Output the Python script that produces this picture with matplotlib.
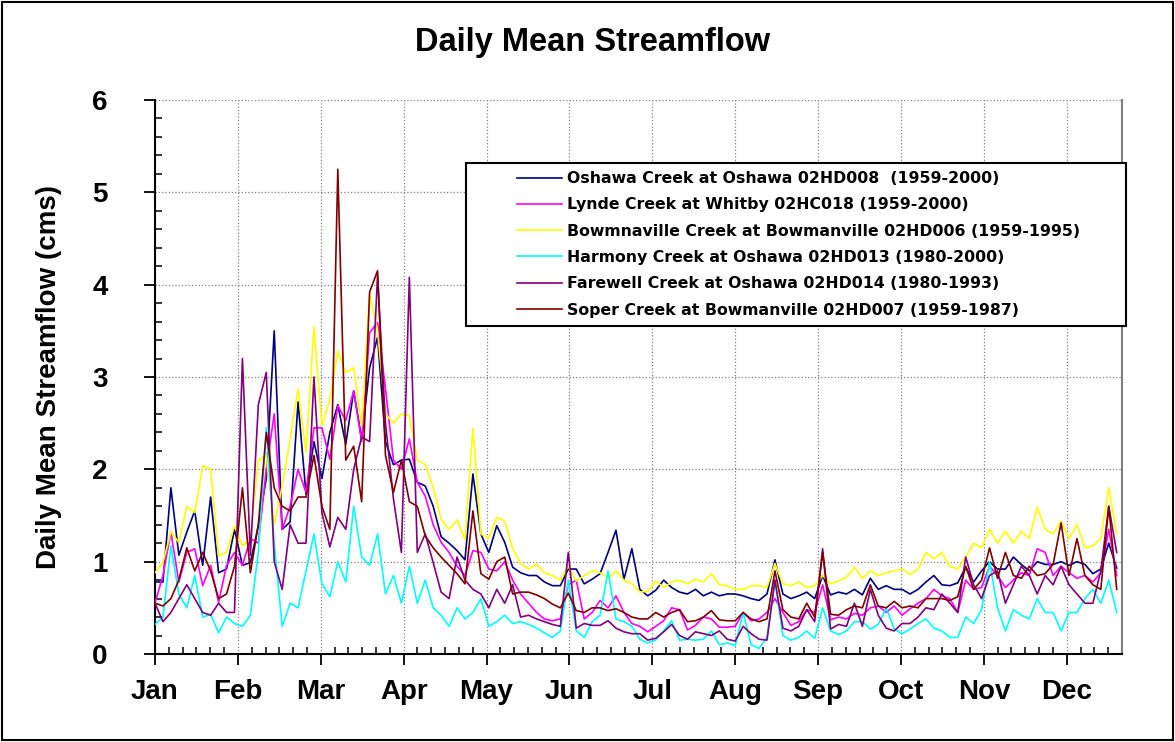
import numpy as np
import matplotlib
matplotlib.use("Agg")
import matplotlib.pyplot as plt
from matplotlib.patches import Rectangle

plt.rcParams['font.family'] = ['Liberation Sans', 'DejaVu Sans']

# day of year, sampled every 3 days
days = np.arange(0, 364, 3)

months = ['Jan', 'Feb', 'Mar', 'Apr', 'May', 'Jun',
          'Jul', 'Aug', 'Sep', 'Oct', 'Nov', 'Dec']

names = ['Oshawa Creek at Oshawa 02HD008  (1959-2000)',
         'Lynde Creek at Whitby 02HC018 (1959-2000)',
         'Bowmnaville Creek at Bowmanville 02HD006 (1959-1995)',
         'Harmony Creek at Oshawa 02HD013 (1980-2000)',
         'Farewell Creek at Oshawa 02HD014 (1980-1993)',
         'Soper Creek at Bowmanville 02HD007 (1959-1987)']

oshawa = [0.78, 0.78, 1.8, 1.07, 1.32, 1.55, 0.96, 1.7, 0.88, 0.92,
          1.35, 0.96, 0.99, 1.39, 1.9, 3.5, 1.35, 1.43, 2.73, 1.73,
          2.3, 1.9, 2.4, 2.7, 2.27, 2.85, 2.33, 3.1, 3.43, 2.3,
          2.05, 2.1, 2.11, 1.86, 1.82, 1.6, 1.27, 1.2, 1.12, 1.02,
          1.95, 1.3, 1.1, 1.39, 1.21, 0.94, 0.88, 0.85, 0.85, 0.78,
          0.74, 0.74, 0.92, 0.92, 0.76, 0.81, 0.87, 1.1, 1.34, 0.81,
          1.14, 0.7, 0.63, 0.69, 0.8, 0.72, 0.67, 0.65, 0.7, 0.63,
          0.67, 0.63, 0.65, 0.65, 0.63, 0.6, 0.58, 0.65, 1.02, 0.65,
          0.6, 0.63, 0.67, 0.6, 0.85, 0.64, 0.67, 0.65, 0.7, 0.64,
          0.82, 0.7, 0.74, 0.7, 0.7, 0.65, 0.7, 0.78, 0.85, 0.75,
          0.74, 0.77, 0.94, 0.78, 0.9, 1.0, 0.92, 0.92, 1.05, 0.97,
          0.9, 1.0, 0.97, 0.97, 1.0, 0.96, 1.0, 0.97, 0.87, 0.92,
          1.2, 0.93]

lynde = [0.55, 0.85, 1.32, 0.78, 1.1, 1.14, 0.74, 0.96, 0.56, 0.96,
         1.1, 0.96, 1.25, 1.2, 2.0, 2.6, 1.35, 1.6, 2.0, 1.75,
         2.45, 2.45, 2.11, 2.69, 2.53, 2.85, 2.3, 3.48, 3.59, 2.87,
         2.1, 2.0, 2.33, 1.86, 1.71, 1.4, 1.21, 1.1, 0.95, 0.85,
         1.12, 1.1, 0.92, 0.9, 1.0, 0.8, 0.65, 0.55, 0.45, 0.38,
         0.36, 0.38, 0.75, 0.8, 0.38, 0.45, 0.58, 0.5, 0.63, 0.45,
         0.33, 0.3, 0.24, 0.3, 0.36, 0.5, 0.48, 0.26, 0.31, 0.4,
         0.38, 0.29, 0.29, 0.3, 0.45, 0.36, 0.38, 0.45, 0.6, 0.45,
         0.31, 0.35, 0.48, 0.45, 0.75, 0.37, 0.4, 0.38, 0.44, 0.42,
         0.5, 0.52, 0.45, 0.52, 0.42, 0.49, 0.55, 0.6, 0.7, 0.63,
         0.6, 0.45, 0.8, 0.7, 0.72, 0.95, 0.85, 0.72, 0.8, 0.88,
         0.85, 1.14, 1.1, 0.85, 0.95, 0.88, 0.82, 0.85, 0.78, 0.88,
         1.35, 0.85]

bowmanville = [0.88, 0.99, 1.32, 1.21, 1.6, 1.53, 2.04, 2.0, 1.06, 1.1,
               1.39, 1.17, 1.25, 2.1, 2.15, 1.4, 1.82, 2.33, 2.87, 2.18,
               3.54, 2.47, 2.76, 3.28, 3.05, 3.1, 2.47, 3.9, 3.5, 2.6,
               2.5, 2.6, 2.58, 2.1, 2.05, 1.8, 1.46, 1.35, 1.45, 1.24,
               2.44, 1.3, 1.25, 1.48, 1.44, 1.14, 0.98, 0.92, 0.97, 0.88,
               0.85, 0.8, 0.95, 0.79, 0.85, 0.9, 0.88, 0.82, 0.9, 0.8,
               0.76, 0.67, 0.68, 0.79, 0.72, 0.78, 0.8, 0.76, 0.81, 0.78,
               0.87, 0.75, 0.74, 0.7, 0.7, 0.74, 0.74, 0.72, 0.98, 0.76,
               0.74, 0.78, 0.72, 0.74, 0.85, 0.76, 0.79, 0.83, 0.94, 0.82,
               0.9, 0.85, 0.88, 0.9, 0.92, 0.86, 0.92, 1.1, 1.03, 1.1,
               0.95, 0.92, 1.05, 1.2, 1.15, 1.35, 1.2, 1.33, 1.2, 1.33,
               1.25, 1.59, 1.35, 1.3, 1.44, 1.25, 1.4, 1.15, 1.17, 1.25,
               1.8, 1.3]

harmony = [0.32, 0.4, 1.17, 0.65, 0.5, 0.85, 0.4, 0.43, 0.23, 0.4,
           0.33, 0.3, 0.42, 1.1, 2.45, 1.2, 0.3, 0.55, 0.5, 0.9,
           1.3, 0.76, 0.62, 1.0, 0.78, 1.6, 1.05, 0.96, 1.3, 0.65,
           0.85, 0.55, 0.95, 0.55, 0.8, 0.5, 0.42, 0.3, 0.5, 0.38,
           0.45, 0.6, 0.3, 0.35, 0.42, 0.33, 0.35, 0.32, 0.28, 0.23,
           0.18, 0.25, 0.8, 0.25, 0.18, 0.35, 0.42, 0.9, 0.38, 0.35,
           0.3, 0.16, 0.12, 0.15, 0.25, 0.36, 0.15, 0.16, 0.15, 0.16,
           0.25, 0.1, 0.12, 0.09, 0.45, 0.1, 0.06, 0.18, 0.8, 0.2,
           0.15, 0.18, 0.25, 0.17, 0.5, 0.25, 0.21, 0.25, 0.35, 0.35,
           0.27, 0.32, 0.5, 0.27, 0.22, 0.27, 0.33, 0.38, 0.28, 0.25,
           0.18, 0.18, 0.4, 0.33, 0.48, 1.0, 0.5, 0.25, 0.48, 0.42,
           0.38, 0.6, 0.45, 0.45, 0.25, 0.45, 0.45, 0.6, 0.7, 0.55,
           0.8, 0.45]

farewell = [0.55, 0.35, 0.45, 0.6, 0.75, 0.6, 0.45, 0.42, 0.55, 0.45,
            0.45, 3.2, 1.07, 2.7, 3.05, 1.0, 0.7, 1.4, 1.2, 1.2,
            3.0, 1.53, 1.16, 1.48, 1.35, 2.0, 2.35, 2.3, 4.1, 2.5,
            1.68, 1.1, 4.08, 1.1, 1.3, 0.99, 0.67, 0.6, 1.05, 0.8,
            0.7, 0.65, 0.5, 0.7, 0.55, 0.75, 0.4, 0.42, 0.38, 0.35,
            0.32, 0.3, 1.1, 0.28, 0.33, 0.31, 0.31, 0.36, 0.28, 0.24,
            0.22, 0.22, 0.15, 0.17, 0.24, 0.32, 0.2, 0.16, 0.24, 0.22,
            0.2, 0.25, 0.16, 0.14, 0.3, 0.22, 0.16, 0.15, 0.8, 0.28,
            0.25, 0.3, 0.48, 0.35, 1.14, 0.27, 0.32, 0.3, 0.55, 0.3,
            0.7, 0.42, 0.28, 0.25, 0.33, 0.33, 0.4, 0.5, 0.48, 0.65,
            0.55, 0.45, 1.05, 0.75, 0.6, 0.85, 0.9, 0.55, 0.75, 0.95,
            0.85, 0.65, 0.85, 0.75, 0.95, 0.75, 0.65, 0.55, 0.55, 0.9,
            1.6, 1.1]

soper = [0.55, 0.52, 0.6, 0.8, 1.15, 0.9, 1.1, 0.9, 0.6, 0.65,
         0.95, 1.8, 0.88, 1.4, 2.4, 1.8, 1.6, 1.55, 1.7, 1.7,
         2.15, 1.6, 1.35, 5.25, 2.1, 2.25, 1.65, 3.92, 4.15, 2.15,
         1.75, 2.1, 1.65, 1.6, 1.28, 1.15, 1.05, 0.96, 0.87, 0.76,
         1.55, 0.87, 0.81, 1.0, 1.05, 0.65, 0.67, 0.67, 0.64, 0.6,
         0.54, 0.5, 0.66, 0.47, 0.45, 0.5, 0.5, 0.47, 0.49, 0.45,
         0.4, 0.38, 0.38, 0.45, 0.4, 0.45, 0.48, 0.35, 0.36, 0.4,
         0.47, 0.37, 0.36, 0.36, 0.45, 0.38, 0.35, 0.38, 0.9, 0.48,
         0.4, 0.38, 0.55, 0.4, 1.1, 0.43, 0.42, 0.48, 0.52, 0.5,
         0.75, 0.52, 0.5, 0.57, 0.5, 0.52, 0.5, 0.6, 0.6, 0.6,
         0.58, 0.62, 0.95, 0.7, 0.8, 1.15, 0.82, 1.1, 0.85, 0.82,
         0.95, 0.85, 0.87, 0.97, 1.42, 0.85, 1.25, 0.85, 0.75, 0.7,
         1.6, 0.7]

series = [oshawa, lynde, bowmanville, harmony, farewell, soper]
colors = ['#000080', '#FF00FF', '#FFFF00', '#00FFFF', '#800080', '#800000']

fig = plt.figure(figsize=(11.75, 7.42), dpi=100)
ax = fig.add_axes([155 / 1175, 1 - 654 / 742, 967 / 1175, 554 / 742])

for vals, col, name in zip(series, colors, names):
    ax.plot(days, vals, color=col, lw=1.2, label=name, zorder=3)

step = 365 / 70
ax.set_xlim(0, 365)
ax.set_ylim(0, 6)
ax.set_xticks([i * 6 * step for i in range(12)])
ax.set_xticklabels(months)
ax.set_xticks([i * step for i in range(71)], minor=True)
ax.set_yticks(range(7))
ax.set_yticks(np.arange(0, 6.01, 0.2), minor=True)

ax.grid(True, which='major', color='#808080', ls=':', lw=0.9, zorder=0)
ax.tick_params(which='major', direction='out', length=8, width=1.3,
               labelsize=20)
ax.tick_params(which='minor', direction='in', length=5, width=1.1)
ax.tick_params(axis='x', pad=10)
ax.tick_params(axis='y', pad=26)
for lab in ax.get_xticklabels() + ax.get_yticklabels():
    lab.set_fontweight('bold')

ax.spines['top'].set_visible(False)
ax.spines['right'].set_color('#808080')
ax.spines['right'].set_linewidth(1.5)
ax.spines['left'].set_linewidth(1.5)
ax.spines['bottom'].set_linewidth(1.5)

ax.set_ylabel('Daily Mean Streamflow (cms)', fontsize=20, fontweight='bold')
ax.yaxis.set_label_coords(-0.096, 0.5)

fig.text(0.504, 0.943, 'Daily Mean Streamflow', ha='center', va='center',
         fontsize=23.5, fontweight='bold')

# legend box
box = Rectangle((466 / 1175, 1 - 326 / 742), 660 / 1175, 163 / 742,
                transform=fig.transFigure, facecolor='white',
                edgecolor='black', lw=1.5, zorder=4)
ax.add_patch(box)
box.set_clip_on(False)
leg = ax.legend(loc='upper left', bbox_to_anchor=(0.366, 0.886),
                frameon=False, borderpad=0, handlelength=2.9,
                handletextpad=0.3, labelspacing=0.72,
                prop={'family': 'DejaVu Sans', 'weight': 'bold',
                      'size': 11.3})
leg.set_zorder(5)

# outer frame
fig.patches.append(Rectangle((0.002, 0.003), 0.996, 0.994,
                             transform=fig.transFigure, fill=False,
                             edgecolor='black', lw=1.5))

fig.savefig('out.png', dpi=100)
